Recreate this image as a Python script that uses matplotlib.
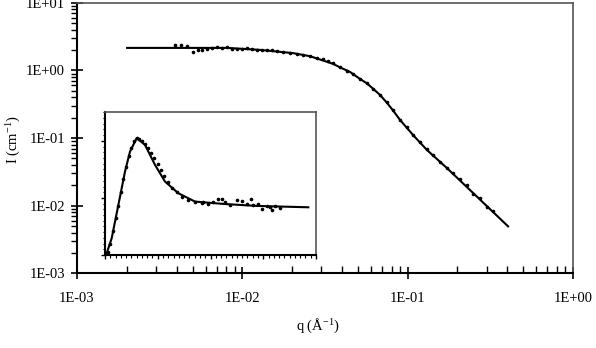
import matplotlib
matplotlib.use("Agg")
import matplotlib.pyplot as plt
from matplotlib.ticker import LogLocator, FixedLocator, MultipleLocator, NullFormatter

plt.rcParams["font.family"] = ["Liberation Serif", "DejaVu Serif"]
plt.rcParams["mathtext.default"] = "regular"

# main panel: fitted curve
fit_q = [0.00201, 0.00318, 0.00808, 0.0128, 0.0203, 0.0257, 0.0354, 0.0390, 0.0448,
         0.0515, 0.0568, 0.0681, 0.0751, 0.0816, 0.0900, 0.1078, 0.1311, 0.1732,
         0.2287, 0.3021, 0.4049]
fit_i = [2.15, 2.15, 2.15, 2.01, 1.80, 1.62, 1.25, 1.108, 0.95,
         0.748, 0.642, 0.434, 0.330, 0.256, 0.185, 0.111, 0.0664, 0.0359,
         0.0188, 0.00983, 0.00497]

# main panel: measured points
data_q = [0.00392, 0.00426, 0.00463, 0.00503, 0.00540, 0.00570, 0.00611, 0.00656,
          0.00703, 0.00754, 0.00808, 0.00866, 0.00929, 0.00996, 0.01068, 0.01145,
          0.01227, 0.01316, 0.01411, 0.01513, 0.01622, 0.01763, 0.01944, 0.02143,
          0.02329, 0.02568, 0.02831, 0.03077, 0.03300, 0.03538, 0.03901, 0.04299,
          0.04674, 0.05152, 0.05682, 0.06176, 0.06808, 0.07506, 0.08161, 0.08995,
          0.09917, 0.1078, 0.1189, 0.1311, 0.1425, 0.1570, 0.1732, 0.1882,
          0.2075, 0.2287, 0.2487, 0.2742, 0.3021, 0.3286]
data_i = [2.36, 2.36, 2.28, 1.84, 1.97, 2.03, 2.10, 2.15,
          2.21, 2.15, 2.18, 2.10, 2.08, 2.10, 2.13, 2.08,
          1.97, 2.03, 1.99, 1.97, 1.93, 1.88, 1.82, 1.77,
          1.70, 1.66, 1.55, 1.46, 1.40, 1.28, 1.127, 0.967,
          0.887, 0.736, 0.653, 0.532, 0.434, 0.336, 0.260, 0.188,
          0.1455, 0.1127, 0.0873, 0.0687, 0.0570, 0.0449, 0.0366, 0.0303,
          0.0245, 0.0205, 0.01506, 0.01292, 0.00950, 0.00843]

# inset: fitted curve (linear axes, arbitrary units)
inset_fit_x = [0.02, 0.126, 0.253, 0.379, 0.474, 0.600, 0.758, 0.853, 0.948,
               1.137, 1.390, 1.706, 2.243, 2.875, 3.855]
inset_fit_y = [0.0, 0.292, 0.877, 1.462, 1.813, 2.047, 1.930, 1.754, 1.579,
               1.287, 1.082, 0.936, 0.895, 0.860, 0.836]

# inset: measured points
inset_x = [0.05, 0.10, 0.15, 0.20, 0.25, 0.30, 0.35, 0.40, 0.45, 0.50, 0.55, 0.60,
           0.65, 0.70, 0.758, 0.822, 0.872, 0.935, 0.998, 1.062, 1.125, 1.188,
           1.264, 1.359, 1.453, 1.580, 1.706, 1.833, 1.864, 1.959, 2.054, 2.149,
           2.212, 2.275, 2.370, 2.496, 2.591, 2.686, 2.762, 2.811, 2.906, 2.970,
           3.065, 3.128, 3.160, 3.223, 3.318]
inset_y = [0.05, 0.20, 0.42, 0.64, 0.86, 1.10, 1.33, 1.55, 1.74, 1.88, 1.99, 2.05,
           2.04, 2.00, 1.942, 1.871, 1.795, 1.696, 1.591, 1.491, 1.386, 1.275,
           1.181, 1.099, 1.023, 0.965, 0.924, 0.906, 0.936, 0.895, 0.936, 0.982,
           0.982, 0.936, 0.871, 0.965, 0.947, 0.895, 0.977, 0.877, 0.895, 0.807,
           0.860, 0.836, 0.789, 0.860, 0.819]

x_ticks = [1e-3, 1e-2, 1e-1, 1e0]
x_labels = ["1E-03", "1E-02", "1E-01", "1E+00"]
y_ticks = [1e-3, 1e-2, 1e-1, 1e0, 1e1]
y_labels = ["1E-03", "1E-02", "1E-01", "1E+00", "1E+01"]

fig = plt.figure(figsize=(5.96, 3.48), dpi=100)
fig.patch.set_facecolor("white")

ax = fig.add_axes([0.1292, 0.2141, 0.8322, 0.7781])
ax.set_xscale("log")
ax.set_yscale("log")
ax.set_xlim(1e-3, 1.0)
ax.set_ylim(1e-3, 10.0)
ax.plot(fit_q, fit_i, color="black", linewidth=1.5, zorder=3)
ax.plot(data_q, data_i, linestyle="none", marker="o", markersize=1.6,
        color="black", zorder=4)

ax.set_xticks(x_ticks)
ax.set_xticklabels(x_labels)
ax.set_yticks(y_ticks)
ax.set_yticklabels(y_labels)
ax.xaxis.set_minor_locator(LogLocator(base=10, subs=range(2, 10)))
ax.yaxis.set_minor_locator(LogLocator(base=10, subs=range(2, 10)))
ax.xaxis.set_minor_formatter(NullFormatter())
ax.yaxis.set_minor_formatter(NullFormatter())
ax.tick_params(axis="x", which="major", direction="inout", length=9, width=1.2,
               pad=9, labelsize=10.5)
ax.tick_params(axis="x", which="minor", direction="in", length=5, width=1.0)
ax.tick_params(axis="y", which="major", direction="inout", length=9, width=1.2,
               pad=4, labelsize=10.5)
ax.tick_params(axis="y", which="minor", direction="out", length=4.5, width=1.0)
for side in ("left", "bottom"):
    ax.spines[side].set_linewidth(1.5)
    ax.spines[side].set_color("black")
for side in ("top", "right"):
    ax.spines[side].set_linewidth(1.2)
    ax.spines[side].set_color("#555555")

fig.text(318 / 596, 1 - 326 / 348, "q (Å$^{-1}$)", ha="center", va="center",
         fontsize=10.5)
fig.text(14 / 596, 1 - 140 / 348, "I (cm$^{-1}$)", ha="center", va="center",
         rotation=90, fontsize=10.5)

ins = fig.add_axes([0.1762, 0.2672, 0.3540, 0.4101])
ins.set_xlim(0, 4)
ins.set_ylim(0, 2.5)
ins.plot(inset_fit_x, inset_fit_y, color="black", linewidth=1.5, zorder=3)
ins.plot(inset_x, inset_y, linestyle="none", marker="o", markersize=1.6,
         color="black", zorder=4)
ins.xaxis.set_major_locator(MultipleLocator(1))
ins.xaxis.set_minor_locator(MultipleLocator(0.1))
ins.yaxis.set_major_locator(FixedLocator([0, 1, 2]))
ins.yaxis.set_minor_locator(MultipleLocator(0.1))
ins.tick_params(which="major", direction="out", length=3, width=1.0,
                labelbottom=False, labelleft=False)
ins.tick_params(which="minor", direction="out", length=1.8, width=0.8)
for side in ("left", "bottom"):
    ins.spines[side].set_linewidth(1.5)
    ins.spines[side].set_color("black")
for side in ("top", "right"):
    ins.spines[side].set_linewidth(1.2)
    ins.spines[side].set_color("#555555")

fig.savefig("out.png", dpi=100)
